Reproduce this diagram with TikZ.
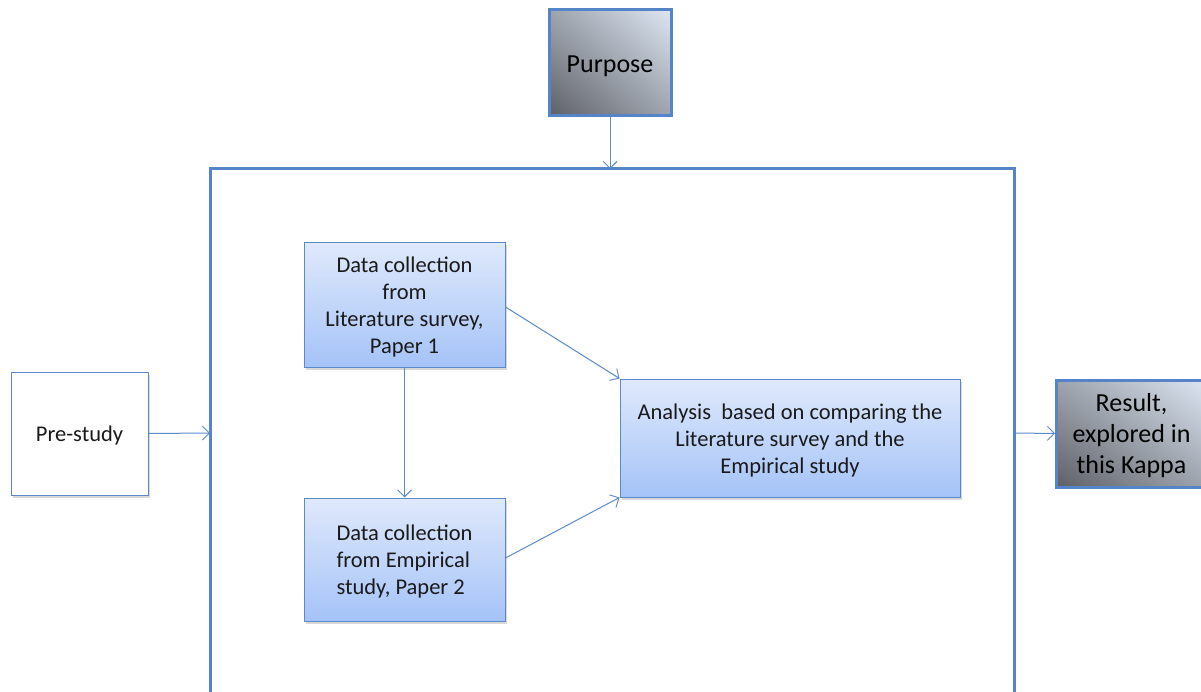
\documentclass[tikz,border=0pt]{standalone}
\usepackage{fontspec}
\setmainfont{Carlito}
\usetikzlibrary{arrows.meta,shadows,shadings}
\definecolor{frameblue}{HTML}{5585C8}
\definecolor{lineblue}{HTML}{5B8ACB}
\definecolor{boxtop}{HTML}{DFE9FB}
\definecolor{boxbot}{HTML}{A5C3F8}
\definecolor{darkg}{HTML}{5E6067}
\definecolor{lightg}{HTML}{DCE6F2}
\definecolor{midg}{HTML}{9EA4AE}
\definecolor{txt}{HTML}{1A1A1A}
\newcommand{\ctxt}[1]{\raisebox{-3pt}[\height][\depth]{\begin{tabular}{@{}c@{}}#1\end{tabular}}}
\newcommand{\ltxt}[1]{\raisebox{-3pt}[\height][\depth]{\begin{tabular}{@{}l@{}}#1\end{tabular}}}
\tikzset{
  conn/.style={draw=lineblue, line width=1pt, -{Straight Barb[length=7pt,width=14pt,line width=0.9pt]}},
  bluebox/.style={draw=lineblue, line width=1pt, top color=boxtop, bottom color=boxbot,
    align=center, text=txt, font=\fontsize{22.5}{27}\selectfont, inner sep=0pt,
    drop shadow={shadow xshift=1.5pt, shadow yshift=-2.5pt, opacity=0.3}},
  graybox/.style={draw=frameblue, line width=3pt, lower left=darkg, upper right=lightg,
    upper left=midg, lower right=midg, align=center, text=black, inner sep=0pt},
  whitebox/.style={draw=lineblue, line width=1pt, fill=white, align=center, text=txt,
    font=\fontsize{22.5}{27}\selectfont, inner sep=0pt,
    drop shadow={shadow xshift=1.5pt, shadow yshift=-2.5pt, opacity=0.3}}
}
\begin{document}
\begin{tikzpicture}[x=1pt,y=-1pt]
\useasboundingbox[fill=white] (0,0) rectangle (1201,692);
% frame (open at bottom)
\draw[frameblue, line width=3pt] (210,700) -- (210,169) -- (1014,169) -- (1014,700);
\coordinate (ftop) at (610,169);
\coordinate (fleft) at (210,433);
\coordinate (fright) at (1014,433);
% nodes
\node[graybox, minimum width=122pt, minimum height=106pt, font=\fontsize{26}{31}\selectfont] (purpose) at (610,63) {\ctxt{Purpose}};
\node[whitebox, minimum width=137pt, minimum height=123pt] (pre) at (79.5,433.5) {\ctxt{Pre-study}};
\node[bluebox, minimum width=201pt, minimum height=124pt] (dc1) at (404.5,305) {\ctxt{Data collection\\from\\Literature survey,\\Paper 1}};
\node[bluebox, minimum width=201pt, minimum height=123pt] (dc2) at (404.5,559.5) {\ltxt{Data collection\\from Empirical\\study, Paper 2}};
\node[bluebox, minimum width=340pt, minimum height=118pt] (ana) at (790,438) {\ctxt{Analysis\ \ based on comparing the\\Literature survey and the\\Empirical study}};
\node[graybox, minimum width=150pt, minimum height=107pt, font=\fontsize{26}{31}\selectfont, anchor=west] (res) at (1055,433.5) {\ctxt{Result,\\explored in\\this Kappa}};
% connectors
\draw[conn] (purpose.south) -- (ftop);
\draw[conn] (pre.east) -- (fleft);
\draw[conn] (fright) -- (res.west);
\draw[conn] (dc1.south) -- (dc2.north);
\draw[conn] (dc1.east |- 0,307) -- (ana.north west);
\draw[conn] (dc2.east |- 0,558) -- (ana.south west);
\end{tikzpicture}
\end{document}
